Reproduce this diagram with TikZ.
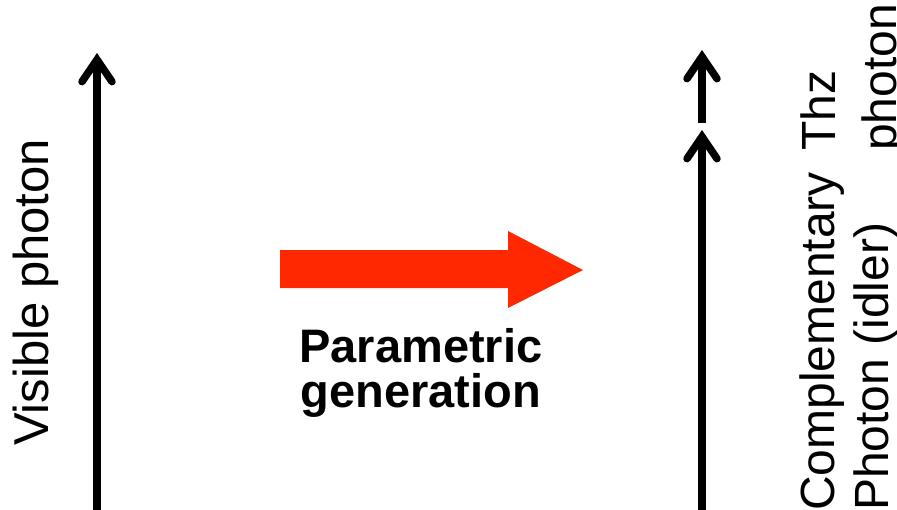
\documentclass[tikz,border=0pt]{standalone}
\usepackage{fontspec}
\setmainfont{Liberation Sans}
\usetikzlibrary{arrows.meta}
\definecolor{pumpred}{RGB}{255,40,0}
\begin{document}
\begin{tikzpicture}[x=1pt,y=-1pt,
  photon/.style={line width=7.5pt,
    -{Straight Barb[length=22pt,width=30pt,line cap=round,line join=miter]}},
  vlabel/.style={rotate=90, anchor=base west, inner sep=0pt,
    font=\fontsize{48}{55}\selectfont},
  boldlabel/.style={anchor=base, inner sep=0pt,
    font=\fontsize{47}{45}\selectfont\bfseries}]
\useasboundingbox (0,0) rectangle (897,509);

% photon energy arrows
\coordinate (visB) at (97,515);
\coordinate (visT) at (97,53);
\draw[photon] (visB) -- (visT);

\coordinate (idlB) at (702,515);
\coordinate (idlT) at (702,130);
\draw[photon] (idlB) -- (idlT);

\coordinate (thzB) at (702,123);
\coordinate (thzT) at (702,50);
\draw[photon] (thzB) -- (thzT);

% pump block arrow
\fill[pumpred] (280,250) -- (508,250) -- (508,231) -- (583,270)
  -- (508,308) -- (508,288) -- (280,288) -- cycle;

% labels
\node[vlabel, font=\fontsize{49}{55}\selectfont] (vis) at (48,446) {Visible photon};
\node[vlabel] (comp) at (834,511) {Complementary};
\node[vlabel] (idl) at (888,511) {Photon (idler)};
\node[vlabel] (thz) at (835,151) {Thz};
\node[vlabel] (thzp) at (896,151) {photon};
\node[boldlabel] (par) at (421,362) {Parametric};
\node[boldlabel] (gen) at (421,407) {generation};
\end{tikzpicture}
\end{document}
